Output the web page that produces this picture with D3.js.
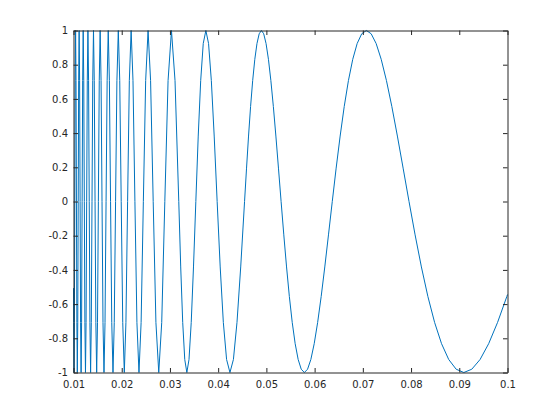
<!DOCTYPE html>
<html>
<head>
<meta charset="utf-8">
<script src="https://cdn.jsdelivr.net/npm/d3@7"></script>
<style>
  html, body { margin: 0; padding: 0; background: #ffffff; }
  svg { display: block; }
</style>
</head>
<body>
<svg id="chart" width="560" height="420"></svg>
<script>
// ---- data ----
const xTickValues = [0.01, 0.02, 0.03, 0.04, 0.05, 0.06, 0.07, 0.08, 0.09, 0.1];
const xTickLabels = ["0.01", "0.02", "0.03", "0.04", "0.05", "0.06", "0.07", "0.08", "0.09", "0.1"];
const yTickValues = [-1, -0.8, -0.6, -0.4, -0.2, 0, 0.2, 0.4, 0.6, 0.8, 1];
const yTickLabels = ["-1", "-0.8", "-0.6", "-0.4", "-0.2", "0", "0.2", "0.4", "0.6", "0.8", "1"];

// curve samples, listed from the right end (x = 0.1) to the left end (x = 0.01)
const xValues = [
  0.1, 0.0998619,
  0.0979415, 0.0960936, 0.0943140, 0.0925992, 0.0909457, 0.0893501, 0.0878096, 0.0863213,
  0.0848826, 0.0834911, 0.0821445, 0.0808406, 0.0795775, 0.0783532, 0.0771660, 0.0760143,
  0.0748964, 0.0738110, 0.0727565, 0.0717318, 0.0707355, 0.0697666, 0.0688238, 0.0679061,
  0.0670126, 0.0661423, 0.0652943, 0.0644678, 0.0636620, 0.0628760, 0.0621093, 0.0613609,
  0.0606305, 0.0599172, 0.0592205, 0.0585397, 0.0578745, 0.0572242, 0.0565884, 0.0559666,
  0.0553582, 0.0547630, 0.0541804, 0.0536101, 0.0530517, 0.0525047, 0.0519690, 0.0514440,
  0.0509296, 0.0504253, 0.0499310, 0.0494462, 0.0489707, 0.0485044, 0.0480468, 0.0475977,
  0.0471570, 0.0467244, 0.0462996, 0.0458825,
  0.0454728, 0.0446751,
  0.0439048, 0.0431607, 0.0424413, 0.0417456, 0.0410722, 0.0404203, 0.0397887, 0.0391766,
  0.0385830, 0.0380071, 0.0374482, 0.0369055, 0.0363783, 0.0358659, 0.0353678, 0.0348833,
  0.0344119, 0.0339531, 0.0335063, 0.0330712, 0.0326472, 0.0322339, 0.0318310,
  0.0310546, 0.0303152, 0.0296102, 0.0289373, 0.0282942, 0.0276791, 0.0270902, 0.0265258,
  0.0259845, 0.0254648, 0.0249655, 0.0244854, 0.0240234, 0.0235785, 0.0231498, 0.0227364,
  0.0223375, 0.0219524, 0.0215803, 0.0212207, 0.0208728, 0.0205361, 0.0202102, 0.0198944,
  0.0195883, 0.0192915, 0.0190036, 0.0187241, 0.0184528, 0.0181891, 0.0179330, 0.0176839,
  0.0174417, 0.0172059, 0.0169765, 0.0167532, 0.0165356, 0.0163236, 0.0161170, 0.0159155,
  0.0157190, 0.0155273, 0.0153402, 0.0151576, 0.0149793, 0.0148051, 0.0146349, 0.0144686,
  0.0143061, 0.0141471, 0.0139917, 0.0138396, 0.0136908, 0.0135451, 0.0134025, 0.0132629,
  0.0131262, 0.0129922, 0.0128610, 0.0127324, 0.0126063, 0.0124828, 0.0123616, 0.0122427,
  0.0121261, 0.0120117, 0.0118995, 0.0117893, 0.0116811, 0.0115749, 0.0114706, 0.0113682,
  0.0112676, 0.0111688, 0.0110716, 0.0109762, 0.0108824, 0.0107902, 0.0106995, 0.0106103,
  0.0105226, 0.0104364, 0.0103515, 0.0102681, 0.0101859, 0.0101051, 0.0100255,
  0.01
];

const yValues = [
  -0.5440, -0.5556,
  -0.7071, -0.8315, -0.9239, -0.9808, -1, -0.9808, -0.9239, -0.8315,
  -0.7071, -0.5556, -0.3827, -0.1951, 0, 0.1951, 0.3827, 0.5556,
  0.7071, 0.8315, 0.9239, 0.9808, 1, 0.9808, 0.9239, 0.8315,
  0.7071, 0.5556, 0.3827, 0.1951, 0, -0.1951, -0.3827, -0.5556,
  -0.7071, -0.8315, -0.9239, -0.9808, -1, -0.9808, -0.9239, -0.8315,
  -0.7071, -0.5556, -0.3827, -0.1951, 0, 0.1951, 0.3827, 0.5556,
  0.7071, 0.8315, 0.9239, 0.9808, 1, 0.9808, 0.9239, 0.8315,
  0.7071, 0.5556, 0.3827, 0.1951,
  0, -0.3827,
  -0.7071, -0.9239, -1, -0.9239, -0.7071, -0.3827, 0, 0.3827,
  0.7071, 0.9239, 1, 0.9239, 0.7071, 0.3827, 0, -0.3827,
  -0.7071, -0.9239, -1, -0.9239, -0.7071, -0.3827, 0,
  0.7071, 1, 0.7071, 0, -0.7071, -1, -0.7071, 0,
  0.7071, 1, 0.7071, 0, -0.7071, -1, -0.7071, 0,
  0.7071, 1, 0.7071, 0, -0.7071, -1, -0.7071, 0,
  0.7071, 1, 0.7071, 0, -0.7071, -1, -0.7071, 0,
  0.7071, 1, 0.7071, 0, -0.7071, -1, -0.7071, 0,
  0.7071, 1, 0.7071, 0, -0.7071, -1, -0.7071, 0,
  0.7071, 1, 0.7071, 0, -0.7071, -1, -0.7071, 0,
  0.7071, 1, 0.7071, 0, -0.7071, -1, -0.7071, 0,
  0.7071, 1, 0.7071, 0, -0.7071, -1, -0.7071, 0,
  0.7071, 1, 0.7071, 0, -0.7071, -1, -0.7071, 0,
  0.7071, 1, 0.7071, 0, -0.7071, -1, -0.7071,
  -0.5064
];

// ---- drawing ----
const svg = d3.select("#chart");
const plotLeft = 73.5, plotRight = 507.5, plotTop = 30.5, plotBottom = 372.5;
const axisColor = "#262626";
const fontFamily = "'DejaVu Sans', sans-serif";

const x = d3.scaleLinear().domain([0.01, 0.1]).range([plotLeft, plotRight]);
const y = d3.scaleLinear().domain([-1, 1]).range([plotBottom, plotTop]);

svg.append("rect").attr("width", 560).attr("height", 420).attr("fill", "#ffffff");

const points = xValues.map((v, i) => [v, yValues[i]]);
const line = d3.line().x(d => x(d[0])).y(d => y(d[1]));

svg.append("path")
  .datum(points)
  .attr("d", line)
  .attr("fill", "none")
  .attr("stroke", "#0072BD")
  .attr("stroke-width", 1)
  .attr("stroke-linejoin", "round");

const tickLen = 4.5;

const xAxisBottom = d3.axisBottom(x)
  .tickValues(xTickValues)
  .tickFormat((d, i) => xTickLabels[i])
  .tickSizeInner(-tickLen).tickSizeOuter(0).tickPadding(8);
const gB = svg.append("g").attr("transform", `translate(0,${plotBottom})`).call(xAxisBottom);

const xAxisTop = d3.axisTop(x).tickValues(xTickValues).tickFormat("")
  .tickSizeInner(-tickLen).tickSizeOuter(0);
const gT = svg.append("g").attr("transform", `translate(0,${plotTop})`).call(xAxisTop);

const yAxisLeft = d3.axisLeft(y)
  .tickValues(yTickValues)
  .tickFormat((d, i) => yTickLabels[i])
  .tickSizeInner(-tickLen).tickSizeOuter(0).tickPadding(5.5);
const gL = svg.append("g").attr("transform", `translate(${plotLeft},0)`).call(yAxisLeft);

const yAxisRight = d3.axisRight(y).tickValues(yTickValues).tickFormat("")
  .tickSizeInner(-tickLen).tickSizeOuter(0);
const gR = svg.append("g").attr("transform", `translate(${plotRight},0)`).call(yAxisRight);

[gB, gT, gL, gR].forEach(g => {
  g.select(".domain").attr("stroke", axisColor).attr("stroke-width", 1);
  g.selectAll(".tick line").attr("stroke", axisColor).attr("stroke-width", 1);
  g.selectAll(".tick text")
    .attr("fill", axisColor)
    .style("font-family", fontFamily)
    .style("font-size", "10px");
});
</script>
</body>
</html>
